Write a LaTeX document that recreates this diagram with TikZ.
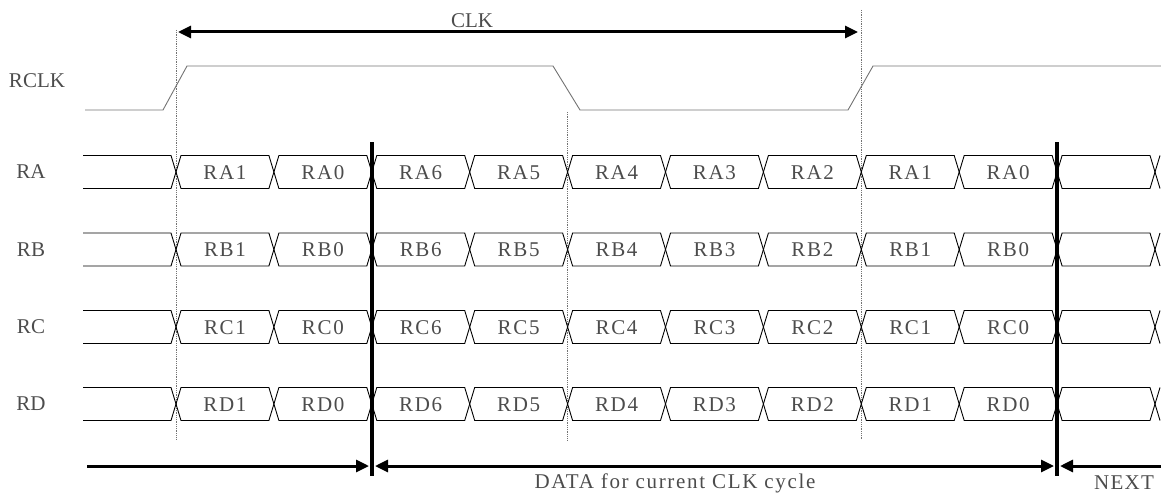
\documentclass[tikz,border=0pt]{standalone}
\usepackage{fontspec}
\setmainfont{Liberation Serif}
\usetikzlibrary{arrows.meta}
\begin{document}
\begin{tikzpicture}[x=1pt,y=-1pt,
  sig/.style={line width=0.9pt, black},
  clkwave/.style={line width=0.9pt, black!55},
  guide/.style={densely dotted, line width=0.8pt, black!55},
  bar/.style={line width=3.5pt, black},
  rarr/.style={line width=3pt, -{Triangle[length=13pt,width=12pt]}},
  larr/.style={line width=3pt, {Triangle[length=13pt,width=12pt]}-},
  darr/.style={line width=3pt, {Triangle[length=13pt,width=12pt]}-{Triangle[length=13pt,width=12pt]}},
  lbl/.style={font=\fontsize{21}{24}\selectfont, text=black!70, inner sep=0pt},
  boxtxt/.style={font=\fontsize{21}{24}\selectfont, text=black!70, inner sep=0pt}
]
\useasboundingbox (0,0) rectangle (1161,495);

% top CLK arrow
\coordinate (clkL) at (178,32);
\coordinate (clkR) at (858,32);
\draw[darr] (clkL) -- (clkR);
\node[lbl] (clktxt) at (472,21) {CLK};

% guides
\draw[guide] (176,30) -- (176,440);
\draw[guide] (567.6,112) -- (567.6,440);
\draw[guide] (861.3,10) -- (861.3,440);

% RCLK
\node[lbl] (rclk) at (37,81) {RCLK};
\draw[clkwave] (85,110) -- (163,110) -- (187,66) -- (553,66) -- (580,110) -- (848,110) -- (873,66) -- (1161,66);

% data rows
\foreach \r/\c in {A/172, B/249.5, C/327, D/404} {
  \node[lbl] (lab\r) at (31,\c) {R\r};
  \draw[sig] (83,\c-16.5) -- (171,\c-16.5) -- (176,\c) -- (171,\c+16.5) -- (83,\c+16.5);
  \foreach \k in {0,...,9} {
    \pgfmathsetmacro\xa{176+97.9*\k}
    \pgfmathsetmacro\xb{176+97.9*(\k+1)}
    \draw[sig] (\xa,\c) -- (\xa+5,\c-16.5) -- (\xb-5,\c-16.5) -- (\xb,\c) -- (\xb-5,\c+16.5) -- (\xa+5,\c+16.5) -- cycle;
  }
  \draw[sig] (1160,\c-16.5) -- (1155,\c) -- (1160,\c+16.5);
  \foreach \k/\n in {0/1,1/0,2/6,3/5,4/4,5/3,6/2,7/1,8/0} {
    \pgfmathsetmacro\xm{176+97.9*(\k+0.5)}
    \node[boxtxt] (R\r\k) at (\xm,\c+0.5) {\addfontfeature{LetterSpace=8}R\r\n};
  }
}

% thick cycle bars
\coordinate (barAtop) at (371.8,142);
\coordinate (barAbot) at (371.8,476);
\coordinate (barBtop) at (1057.1,142);
\coordinate (barBbot) at (1057.1,476);
\draw[bar] (barAtop) -- (barAbot);
\draw[bar] (barBtop) -- (barBbot);

% bottom arrows
\coordinate (b0) at (87,466);
\coordinate (b1) at (369,466);
\coordinate (b2) at (375,466);
\coordinate (b3) at (1054,466);
\coordinate (b4) at (1060,466);
\coordinate (b5) at (1161,466);
\draw[rarr] (b0) -- (b1);
\draw[darr] (b2) -- (b3);
\draw[larr] (b4) -- (b5);
\node[lbl] (datatxt) at (675,483) {\addfontfeature{LetterSpace=8}DATA for current CLK cycle};
\node[lbl] (nexttxt) at (1124,483) {\addfontfeature{LetterSpace=6}NEXT};
\end{tikzpicture}
\end{document}
